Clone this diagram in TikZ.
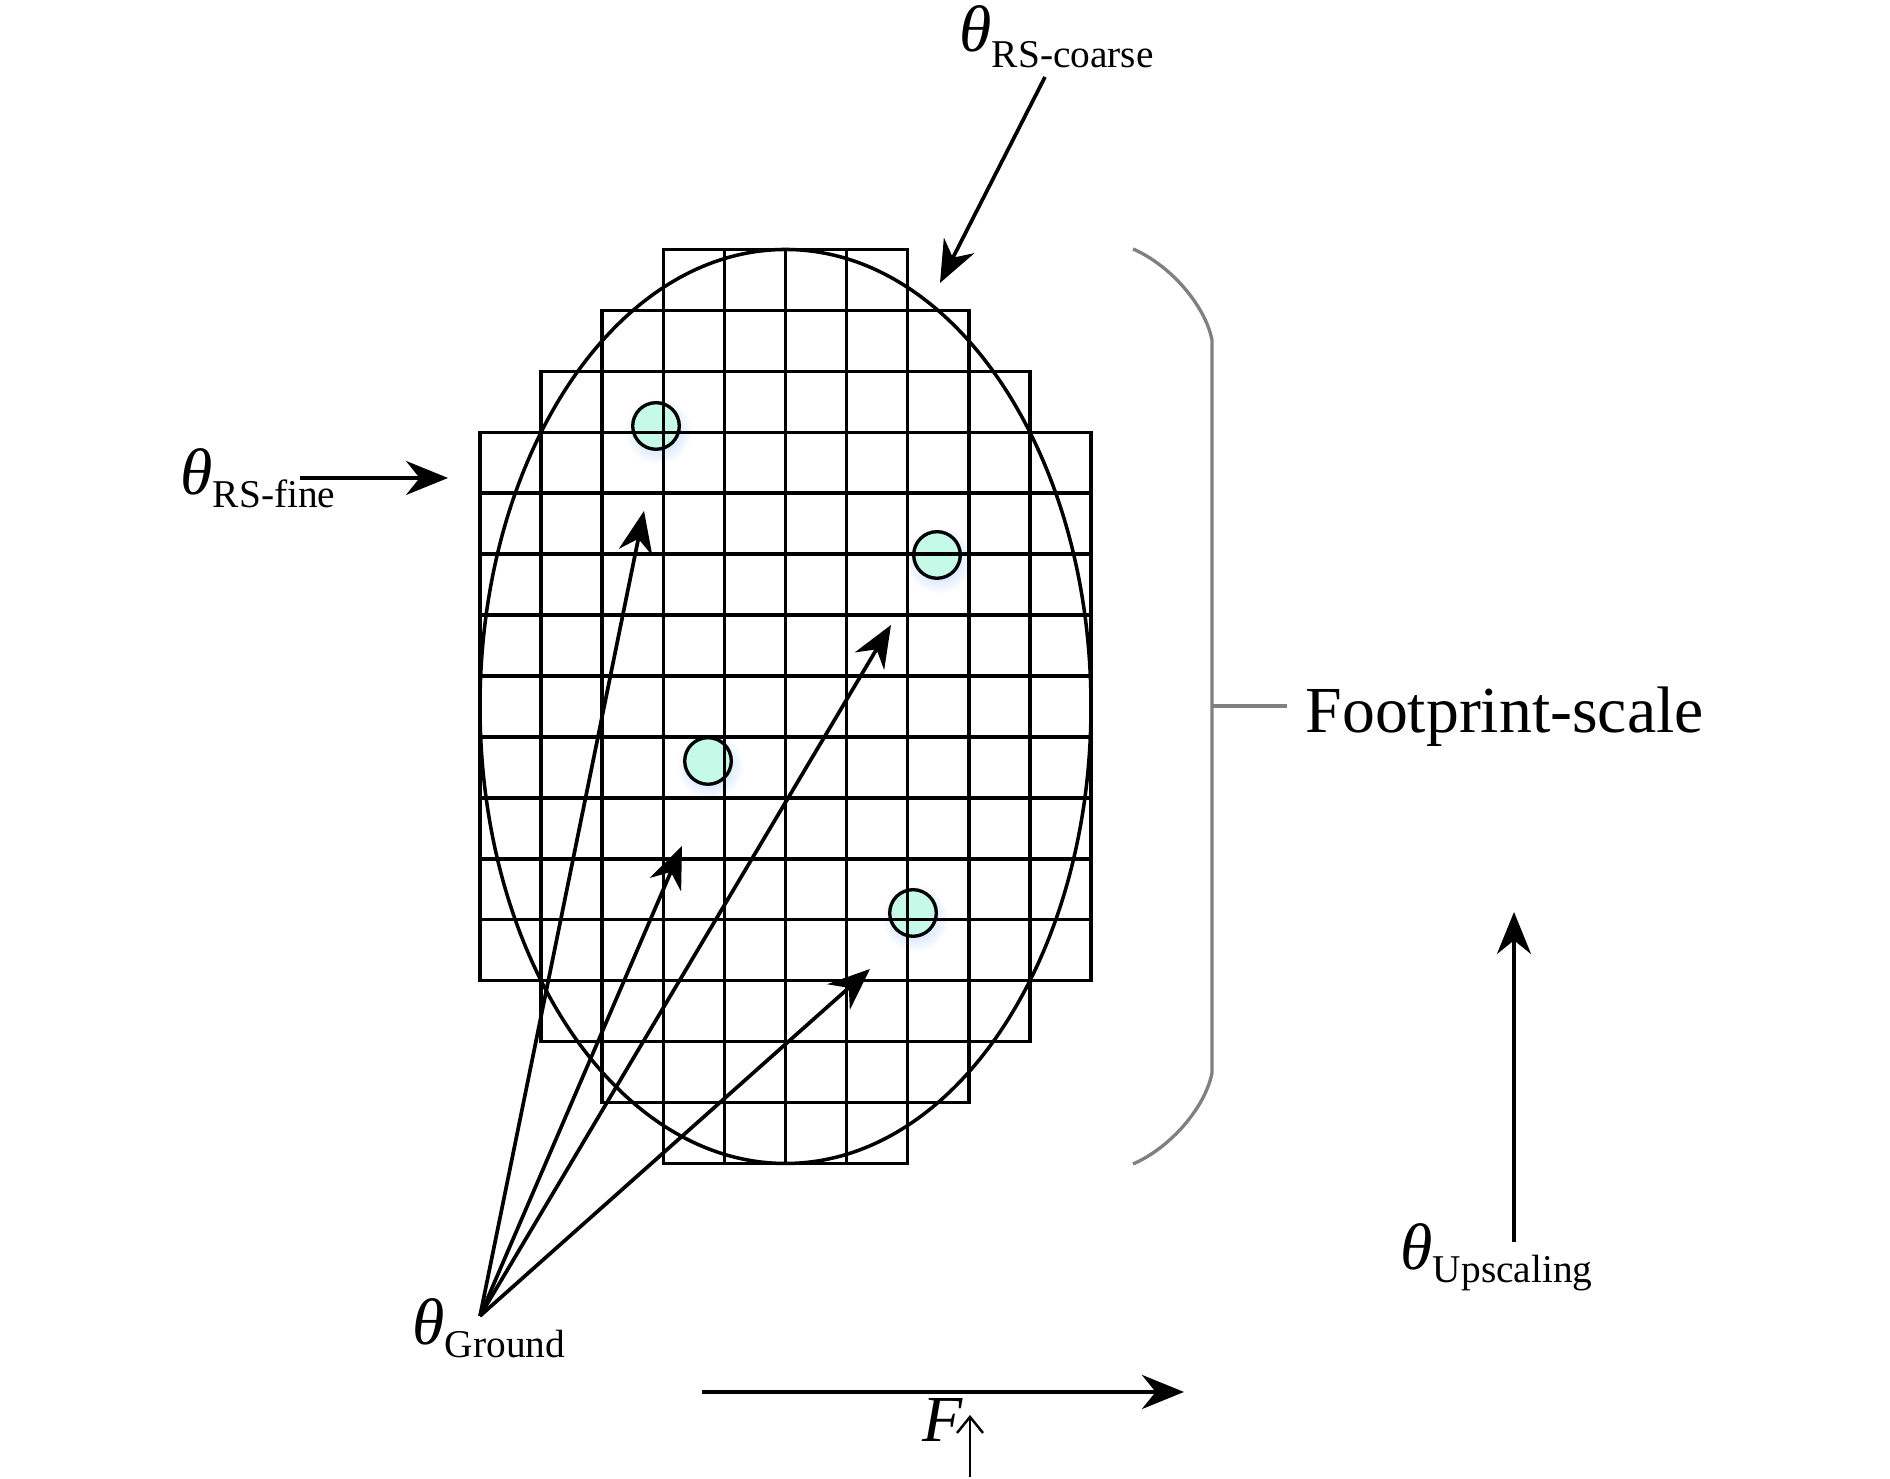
\documentclass[tikz,border=0pt]{standalone}
\usepackage{fontspec}
\setmainfont{Liberation Serif}
\usepackage{tikz}
\usetikzlibrary{arrows.meta, positioning, calc}
\definecolor{sitefill}{RGB}{198,250,232}
\definecolor{siteglow}{RGB}{175,205,250}
\definecolor{bracegray}{RGB}{128,128,128}
\tikzset{
  gridline/.style={line width=1.0pt,color=black},
  ellline/.style={line width=1.0pt,color=black},
  sitedot/.style={circle,draw=black,line width=0.95pt,fill=sitefill,minimum size=0.466cm,inner sep=0pt},
  glowspot/.style={inner color=siteglow,outer color=white},
  arr/.style={->,>={Stealth[length=4.2mm,width=3.4mm]},line width=1.05pt},
  thickarr/.style={->,>={Stealth[length=4.2mm,width=3.4mm]},line width=1.25pt},
  thinarr/.style={->,>={Straight Barb[length=1.6mm,width=2.6mm]},line width=0.7pt},
  braceline/.style={line width=0.95pt,color=bracegray},
  lbl/.style={inner sep=0pt,anchor=base west},
  bigtext/.style={lbl,font=\fontsize{18.7}{22}\selectfont}
}
\newcommand{\thlabel}[2][-3.6pt]{{\itshape θ}\raisebox{#1}{\fontsize{11.2}{13}\selectfont #2}}

\begin{document}
\begin{tikzpicture}

  \useasboundingbox (0,0) rectangle (18.9,14.79);

  %% Ground sites, with a soft glow under each
  \foreach \n/\p in {s1/{6.56,10.53}, s2/{9.37,9.24}, s3/{7.08,7.18}, s4/{9.13,5.66}} {
    \shade[glowspot] ($(\p)+(0.02,-0.05)$) circle (0.34);
    \node[sitedot] (\n) at (\p) {};
  }

  %% Pixel grid (row / first column / last column)
  \begin{scope}[shift={(4.80,12.295)},x=0.611cm,y=0.6093cm,gridline]
    \foreach \r/\a/\b in {0/3/7, 1/2/8, 2/1/9, 3/0/10, 4/0/10, 5/0/10, 6/0/10, 7/0/10,
                          8/0/10, 9/0/10, 10/0/10, 11/0/10, 12/1/9, 13/2/8, 14/3/7} {
      \draw (\a,-\r) rectangle (\b,-\r-1);
      \foreach \c in {\a,...,\b}
        \draw (\c,-\r) -- (\c,-\r-1);
    }
  \end{scope}

  %% Footprint ellipse
  \draw[ellline] (7.855,7.725) ellipse [x radius=3.055cm, y radius=4.57cm];

  %% Labels
  \node[bigtext] (coarse) at (9.59,14.27) {\thlabel[-4.4pt]{RS-coarse}};
  \node[bigtext] (fine) at (1.80,9.84) {\thlabel{RS-fine}};
  \node[bigtext] (ground) at (4.12,1.34) {\thlabel{Ground}};
  \node[bigtext] (upscale) at (14.00,2.09) {\thlabel{Upscaling}};
  \node[bigtext] (fpscale) at (13.05,7.46) {Footprint-scale};
  \node[bigtext] (flux) at (9.22,0.37) {\itshape F};

  %% Arrow ends
  \coordinate (coarseS) at (10.45,14.02);
  \coordinate (coarseE) at (9.40,11.96);
  \coordinate (fineS) at (3.00,10.01);
  \coordinate (fineE) at (4.48,10.01);
  \coordinate (gapex) at (4.80,1.63);
  \coordinate (g1) at (6.44,9.68);
  \coordinate (g2) at (6.82,6.33);
  \coordinate (g3) at (8.91,8.54);
  \coordinate (g4) at (8.70,5.10);
  \coordinate (upS) at (15.14,2.37);
  \coordinate (upE) at (15.14,5.67);
  \coordinate (fluxS) at (7.02,0.87);
  \coordinate (fluxE) at (11.84,0.87);
  \coordinate (fupS) at (9.70,0.02);
  \coordinate (fupE) at (9.70,0.64);
  \coordinate (bmid) at (12.12,7.73);

  %% Arrows
  \draw[arr] (coarseS) -- (coarseE);
  \draw[arr] (fineS) -- (fineE);
  \foreach \t in {g1,g2,g3,g4}
    \draw[arr] (gapex) -- (\t);
  \draw[arr] (upS) -- (upE);
  \draw[thickarr] (fluxS) -- (fluxE);
  \draw[thinarr] (fupS) -- (fupE);

  %% Footprint-scale bracket
  \draw[braceline] (11.33,12.30) .. controls (11.70,12.14) and (12.05,11.74) .. (12.12,11.39)
    -- (12.12,4.06) .. controls (12.05,3.71) and (11.70,3.31) .. (11.33,3.15);
  \draw[braceline] (bmid) -- ++(0.75,0);

\end{tikzpicture}
\end{document}
